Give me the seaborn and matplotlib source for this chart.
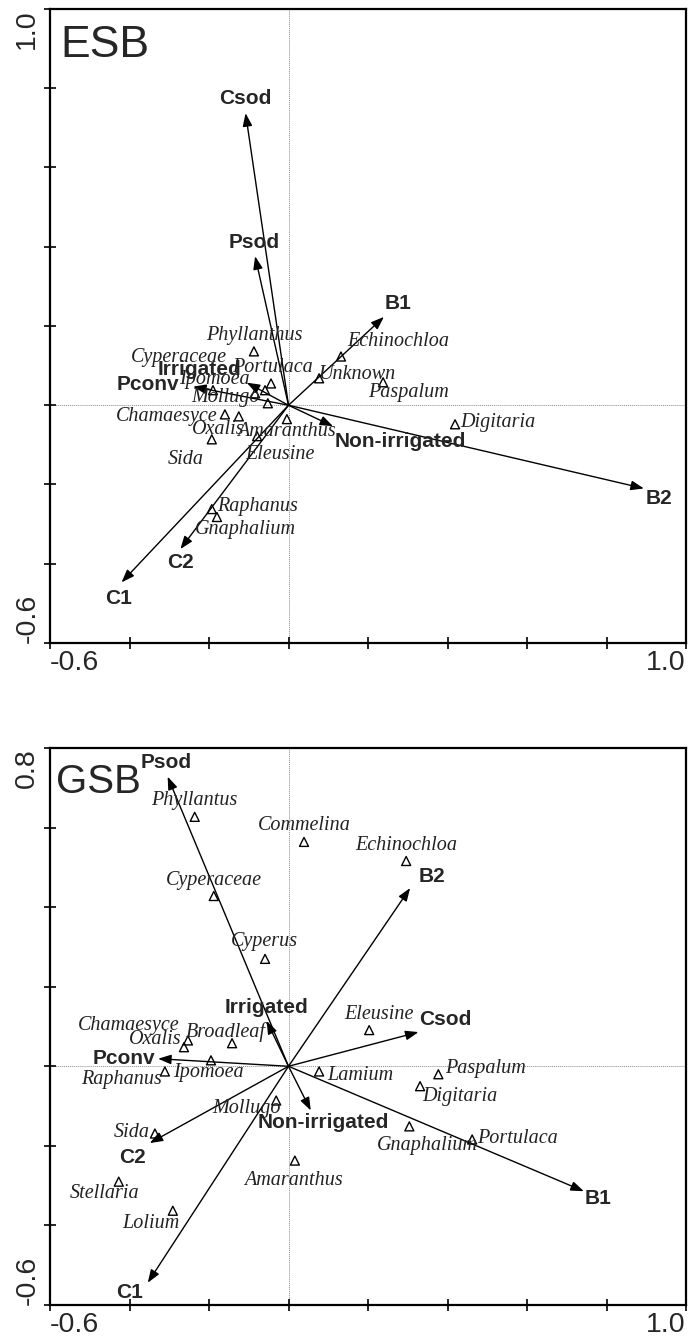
import numpy as np
import pandas as pd
import matplotlib
matplotlib.use("Agg")
import matplotlib.pyplot as plt
import seaborn as sns

# ==============================================================
# DATA
# ==============================================================
# --- ESB panel ---
esb_species = ["Phyllanthus", "Echinochloa", "Unknown", "Paspalum", "Digitaria",
               "Portulaca", "Cyperaceae", "Ipomoea", "Mollugo", "",
               "Chamaesyce", "Oxalis", "Sida", "Amaranthus", "Eleusine",
               "Raphanus", "Gnaphalium"]
esb_sp_x = [-0.087, 0.132, 0.077, 0.238, 0.419,
            -0.044, -0.059, -0.190, -0.084, -0.052,
            -0.160, -0.125, -0.193, -0.004, -0.079,
            -0.193, -0.180]
esb_sp_y = [0.136, 0.123, 0.068, 0.058, -0.048,
            0.055, 0.038, 0.038, 0.030, 0.005,
            -0.023, -0.028, -0.086, -0.035, -0.078,
            -0.262, -0.282]

esb_env = ["Csod", "Psod", "B1", "B2", "Non-irrigated", "C1", "C2", "Irrigated", "Pconv"]
esb_env_x = [-0.108, -0.084, 0.240, 0.894, 0.112, -0.420, -0.272, -0.105, -0.240]
esb_env_y = [0.737, 0.376, 0.223, -0.210, -0.053, -0.447, -0.363, 0.057, 0.047]

# --- GSB panel ---
gsb_species = ["Phyllantus", "Commelina", "Echinochloa", "Cyperaceae", "Cyperus",
               "Chamaesyce", "Oxalis", "Broadleaf", "Ipomoea", "Raphanus",
               "Mollugo", "Sida", "Stellaria", "Lolium", "Amaranthus",
               "Lamium", "Eleusine", "Paspalum", "Digitaria", "Gnaphalium",
               "Portulaca"]
gsb_sp_x = [-0.236, 0.039, 0.296, -0.188, -0.059,
            -0.253, -0.263, -0.142, -0.195, -0.311,
            -0.031, -0.336, -0.427, -0.291, 0.016,
            0.077, 0.203, 0.377, 0.331, 0.304,
            0.462]
gsb_sp_y = [0.627, 0.564, 0.516, 0.428, 0.270,
            0.065, 0.048, 0.058, 0.015, -0.013,
            -0.086, -0.169, -0.290, -0.363, -0.237,
            -0.013, 0.091, -0.020, -0.050, -0.151,
            -0.184]

gsb_env = ["Psod", "B2", "Irrigated", "Csod", "Pconv", "C2", "Non-irrigated", "B1", "C1"]
gsb_env_x = [-0.304, 0.306, -0.055, 0.327, -0.328, -0.349, 0.056, 0.743, -0.354]
gsb_env_y = [0.728, 0.448, 0.114, 0.086, 0.019, -0.193, -0.111, -0.314, -0.544]

# ==============================================================
# LABEL PLACEMENT  (pixel offsets from the mark, y pointing down)
# ==============================================================
ESB_SP_OFF = {
    "Phyllanthus": (0, -16, "center"), "Echinochloa": (6, -15, "left"),
    "Unknown": (-1, -4, "left"), "Paspalum": (25, 10, "center"),
    "Digitaria": (5, -2, "left"), "Portulaca": (1, -16, "center"),
    "Cyperaceae": (-86, -33, "center"), "Ipomoea": (1, -11, "center"),
    "Mollugo": (-30, 4, "center"), "Chamaesyce": (-7, 2, "right"),
    "Oxalis": (-21, 13, "center"), "Sida": (-26, 20, "center"),
    "Amaranthus": (0, 12, "center"), "Eleusine": (23, 18, "center"),
    "Raphanus": (5, -3, "left"), "Gnaphalium": (28, 13, "center"),
}
ESB_ENV_OFF = {
    "Csod": (0, -15), "Psod": (-1, -14), "B1": (14, -13), "B2": (15, 10),
    "Non-irrigated": (67, 15), "C1": (-3, 16), "C2": (0, 13),
    "Irrigated": (-47, -13), "Pconv": (-45, -2),
}
GSB_SP_OFF = {
    "Phyllantus": (0, -16, "center"), "Commelina": (0, -16, "center"),
    "Echinochloa": (0, -15, "center"), "Cyperaceae": (0, -16, "center"),
    "Cyperus": (-1, -17, "center"), "Chamaesyce": (-8, -15, "right"),
    "Oxalis": (-2, -8, "right"), "Broadleaf": (-6, -11, "center"),
    "Ipomoea": (-3, 12, "center"), "Raphanus": (-3, 8, "right"),
    "Mollugo": (-30, 8, "center"), "Sida": (-5, -1, "right"),
    "Stellaria": (-14, 12, "center"), "Lolium": (-22, 13, "center"),
    "Amaranthus": (-1, 20, "center"), "Lamium": (8, 4, "left"),
    "Eleusine": (10, -16, "center"), "Paspalum": (7, -6, "left"),
    "Digitaria": (2, 10, "left"), "Gnaphalium": (18, 19, "center"),
    "Portulaca": (5, -1, "left"),
}
GSB_ENV_OFF = {
    "Psod": (-1, -14), "B2": (22, -12), "Irrigated": (0, -13), "Csod": (27, -13),
    "Pconv": (-34, 0), "C2": (-17, 14), "Non-irrigated": (13, 12),
    "B1": (14, 7), "C1": (-18, 10),
}

# ==============================================================
# STYLE
# ==============================================================
sns.set_style("white")
plt.rcParams["font.family"] = ["Liberation Sans", "DejaVu Sans"]
SERIF = ["Liberation Serif", "DejaVu Serif"]

X_MINOR = [-0.4, -0.2, 0.0, 0.2, 0.4, 0.6, 0.8]
Y_MINOR_ESB = [-0.4, -0.2, 0.0, 0.2, 0.4, 0.6, 0.8]
Y_MINOR_GSB = [-0.4, -0.2, 0.0, 0.2, 0.4, 0.6]


def draw_panel(ax, title, title_off, title_size, ylim, y_minor,
               species, sp_x, sp_y, sp_off, env, env_x, env_y, env_off):
    ax.set_xlim(-0.6, 1.0)
    ax.set_ylim(*ylim)

    ax.axhline(0, color="0.55", lw=0.7, ls=(0, (1, 1)), zorder=0)
    ax.axvline(0, color="0.55", lw=0.7, ls=(0, (1, 1)), zorder=0)

    # environmental arrows
    for name, x, y in zip(env, env_x, env_y):
        ax.annotate("", xy=(x, y), xytext=(0, 0),
                    arrowprops=dict(arrowstyle="-|>,head_length=0.65,head_width=0.24",
                                    color="black", lw=1.0, mutation_scale=12,
                                    shrinkA=0, shrinkB=0), zorder=2)
        dx, dy = env_off[name]
        ax.annotate(name, xy=(x, y), xytext=(dx, -dy), textcoords="offset pixels",
                    ha="center", va="center", fontsize=15, fontweight="bold",
                    zorder=4)

    # species triangles
    df = pd.DataFrame({"x": sp_x, "y": sp_y, "name": species})
    sns.scatterplot(data=df, x="x", y="y", ax=ax, marker="^", s=42,
                    facecolor="none", edgecolor="black", linewidth=1.0,
                    zorder=3, legend=False)
    for name, x, y in zip(species, sp_x, sp_y):
        if not name:
            continue
        dx, dy, ha = sp_off[name]
        ax.annotate(name, xy=(x, y), xytext=(dx, -dy), textcoords="offset pixels",
                    ha=ha, va="center", fontsize=14.5, style="italic",
                    family=SERIF, color="#222222", zorder=4)

    ax.annotate(title, xy=(0, 1), xycoords="axes fraction", xytext=title_off,
                textcoords="offset pixels", ha="left", va="top",
                fontsize=title_size)

    # axes frame and ticks
    ax.set_xlabel("")
    ax.set_ylabel("")
    ax.set_xticks([-0.6, 1.0])
    ax.set_xticklabels(["-0.6", "1.0"])
    ax.set_xticks(X_MINOR, minor=True)
    ax.set_yticks([ylim[0], ylim[1]])
    ax.set_yticklabels([f"{ylim[0]:.1f}", f"{ylim[1]:.1f}"])
    ax.set_yticks(y_minor, minor=True)
    ax.tick_params(which="both", direction="inout", length=8, width=1.2,
                   top=False, right=False, left=True, bottom=True,
                   labelsize=20.5, color="black")
    ax.tick_params(axis="x", pad=1)
    ax.tick_params(axis="y", pad=3)
    xl = ax.get_xticklabels()
    xl[0].set_ha("left")
    xl[1].set_ha("right")
    yl = ax.get_yticklabels()
    for lab in yl:
        lab.set_rotation(90)
    yl[0].set_va("bottom")
    yl[1].set_va("top")
    for sp in ax.spines.values():
        sp.set_visible(True)
        sp.set_color("black")
        sp.set_linewidth(1.6)


fig = plt.figure(figsize=(6.99, 13.38), dpi=100)
ax1 = fig.add_axes([50 / 699, 1 - 643 / 1338, 636 / 699, 634 / 1338])
ax2 = fig.add_axes([50 / 699, 1 - 1305 / 1338, 636 / 699, 557 / 1338])

draw_panel(ax1, "ESB", (10, -16), 32, (-0.6, 1.0), Y_MINOR_ESB,
           esb_species, esb_sp_x, esb_sp_y, ESB_SP_OFF,
           esb_env, esb_env_x, esb_env_y, ESB_ENV_OFF)
draw_panel(ax2, "GSB", (6, -15), 29, (-0.6, 0.8), Y_MINOR_GSB,
           gsb_species, gsb_sp_x, gsb_sp_y, GSB_SP_OFF,
           gsb_env, gsb_env_x, gsb_env_y, GSB_ENV_OFF)

fig.savefig("out.png", dpi=100)
